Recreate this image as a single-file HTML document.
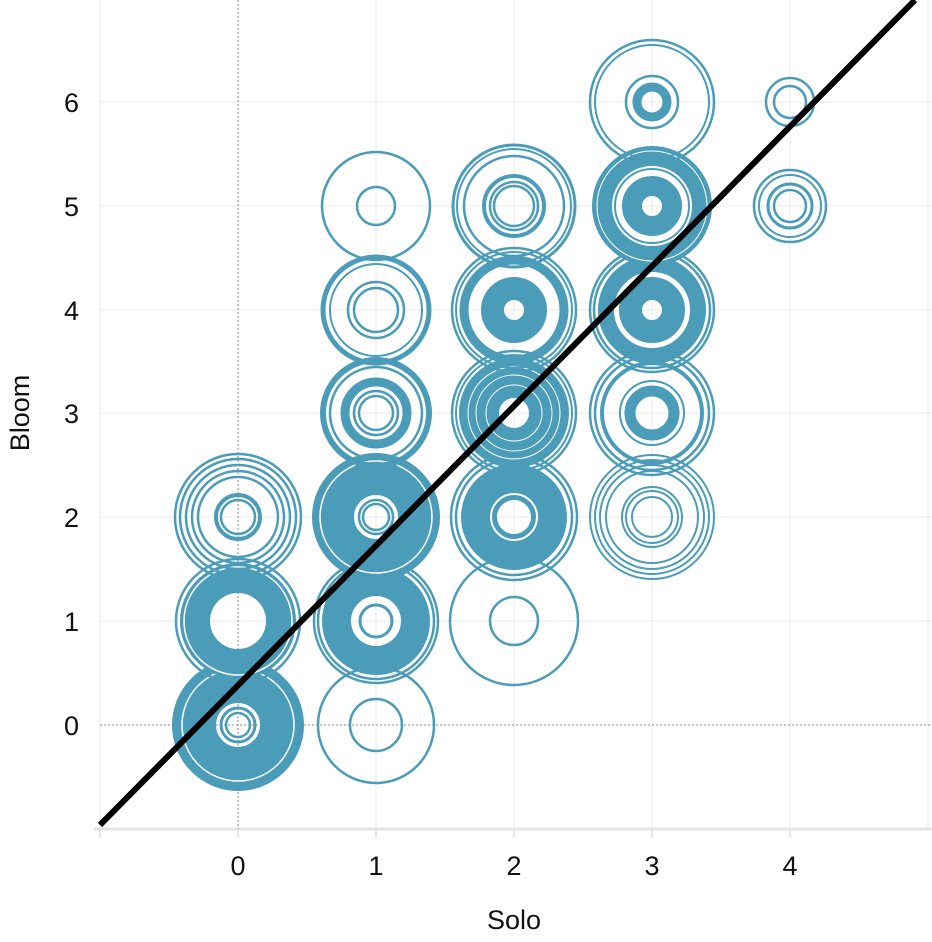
<!DOCTYPE html>
<html><head><meta charset="utf-8"><style>
html,body{margin:0;padding:0;background:#fff;}
svg{display:block;font-family:"Liberation Sans",Arial,sans-serif;}
</style></head><body>
<svg width="932" height="942" viewBox="0 0 932 942" xmlns="http://www.w3.org/2000/svg">
<g stroke="#f0f0f0" stroke-width="1.5">
<line x1="376" y1="0" x2="376" y2="829"/><line x1="514" y1="0" x2="514" y2="829"/><line x1="652" y1="0" x2="652" y2="829"/><line x1="790" y1="0" x2="790" y2="829"/><line x1="928" y1="0" x2="928" y2="829"/>
<line x1="100" y1="621" x2="932" y2="621"/><line x1="100" y1="517" x2="932" y2="517"/><line x1="100" y1="413" x2="932" y2="413"/><line x1="100" y1="310" x2="932" y2="310"/><line x1="100" y1="206" x2="932" y2="206"/><line x1="100" y1="102" x2="932" y2="102"/>
<line x1="100" y1="0" x2="100" y2="829"/>
</g>
<line x1="94" y1="829" x2="932" y2="829" stroke="#e4e4e4" stroke-width="3"/>
<g stroke="#ddd" stroke-width="1.5">
<line x1="100" y1="829" x2="100" y2="838"/><line x1="238" y1="829" x2="238" y2="838"/><line x1="376" y1="829" x2="376" y2="838"/><line x1="514" y1="829" x2="514" y2="838"/><line x1="652" y1="829" x2="652" y2="838"/><line x1="790" y1="829" x2="790" y2="838"/>
</g>
<g stroke="#888" stroke-width="1" stroke-dasharray="2,2">
<line x1="238" y1="0" x2="238" y2="829"/><line x1="100" y1="725" x2="932" y2="725"/>
</g>
<g fill="none" stroke="#4a9cb8">
<g transform="translate(238,725)"><circle r="44" stroke-width="44"/><circle r="56" stroke="#fff" stroke-width="1.5"/><circle r="17" stroke-width="3"/><circle r="12" stroke-width="2.5"/></g>
<g transform="translate(238,621)"><circle r="62" stroke-width="2.5"/><circle r="43" stroke-width="30"/><circle r="54" stroke="#fff" stroke-width="1.5"/></g>
<g transform="translate(238,517)" stroke-width="2.5"><circle r="63"/><circle r="58"/><circle r="52"/><circle r="46"/><circle r="40"/><circle r="22" stroke-width="4"/><circle r="17"/></g>
<g transform="translate(376,725)" stroke-width="2.5"><circle r="58"/><circle r="26"/></g>
<g transform="translate(376,621)"><circle r="62" stroke-width="2.5"/><circle r="58" stroke-width="2.5"/><circle r="39.5" stroke-width="29"/><circle r="16" stroke-width="3"/></g>
<g transform="translate(376,517)"><circle r="43" stroke-width="42"/><circle r="56" stroke="#fff" stroke-width="1.5"/><circle r="17" stroke-width="2.5"/><circle r="13" stroke-width="2.5"/></g>
<g transform="translate(376,413)"><circle r="53" stroke-width="6"/><circle r="46" stroke-width="2.5"/><circle r="31" stroke-width="9"/><circle r="22" stroke-width="2.5"/><circle r="17" stroke-width="2.5"/></g>
<g transform="translate(376,310)"><circle r="53" stroke-width="5"/><circle r="46" stroke-width="2"/><circle r="28" stroke-width="2.5"/><circle r="22" stroke-width="2.5"/></g>
<g transform="translate(376,206)" stroke-width="2.5"><circle r="54"/><circle r="19"/></g>
<g transform="translate(514,621)" stroke-width="2.5"><circle r="64"/><circle r="24"/></g>
<g transform="translate(514,517)"><circle r="63" stroke-width="2.5"/><circle r="58" stroke-width="2.5"/><circle r="35" stroke-width="36"/><circle r="23" stroke="#fff" stroke-width="2"/></g>
<g transform="translate(514,413)"><circle r="62" stroke-width="2.5"/><circle r="58" stroke-width="2"/><circle r="35" stroke-width="40"/><g stroke="#fff" stroke-width="1"><circle r="46"/><circle r="38"/><circle r="28"/></g></g>
<g transform="translate(514,310)"><circle r="62" stroke-width="2.5"/><circle r="58" stroke-width="2"/><circle r="50" stroke-width="9"/><circle r="21.5" stroke-width="23"/></g>
<g transform="translate(514,206)"><circle r="61" stroke-width="3"/><circle r="57" stroke-width="2"/><circle r="50" stroke-width="2.5"/><circle r="30" stroke-width="4"/><circle r="24" stroke-width="2.5"/><circle r="20" stroke-width="2.5"/></g>
<g transform="translate(652,517)" stroke-width="2"><circle r="62"/><circle r="57"/><circle r="52"/><circle r="46"/><circle r="30"/><circle r="26"/><circle r="20"/></g>
<g transform="translate(652,413)"><circle r="62" stroke-width="2.5"/><circle r="57" stroke-width="2.5"/><circle r="50" stroke-width="4"/><circle r="32" stroke-width="2"/><circle r="22" stroke-width="11"/></g>
<g transform="translate(652,310)"><circle r="62" stroke-width="2.5"/><circle r="58" stroke-width="2.5"/><circle r="46" stroke-width="16"/><circle r="21.5" stroke-width="23"/></g>
<g transform="translate(652,206)"><circle r="50" stroke-width="20"/><circle r="55" stroke="#fff" stroke-width="1"/><circle r="37" stroke-width="2"/><circle r="20" stroke-width="20"/></g>
<g transform="translate(652,102)"><circle r="62" stroke-width="2.5"/><circle r="57" stroke-width="2"/><circle r="26" stroke-width="2.5"/><circle r="15" stroke-width="9"/></g>
<g transform="translate(790,206)"><circle r="36" stroke-width="2.5"/><circle r="31" stroke-width="2"/><circle r="22" stroke-width="3"/><circle r="16" stroke-width="2.5"/></g>
<g transform="translate(790,102)" stroke-width="2.5"><circle r="24"/><circle r="16"/></g>
</g>
<line x1="100" y1="825" x2="915" y2="0" stroke="#000" stroke-width="6"/>
<g font-size="27" fill="#111" text-anchor="middle">
<text x="238" y="875">0</text><text x="376" y="875">1</text><text x="514" y="875">2</text><text x="652" y="875">3</text><text x="790" y="875">4</text>
</g>
<g font-size="27" fill="#111" text-anchor="end">
<text x="79" y="735">0</text><text x="79" y="631">1</text><text x="79" y="527">2</text><text x="79" y="423">3</text><text x="79" y="320">4</text><text x="79" y="216">5</text><text x="79" y="112">6</text>
</g>
<text x="514" y="929" font-size="27" fill="#111" text-anchor="middle">Solo</text>
<text transform="translate(29,413) rotate(-90)" font-size="27" fill="#111" text-anchor="middle">Bloom</text>
</svg>
</body></html>
